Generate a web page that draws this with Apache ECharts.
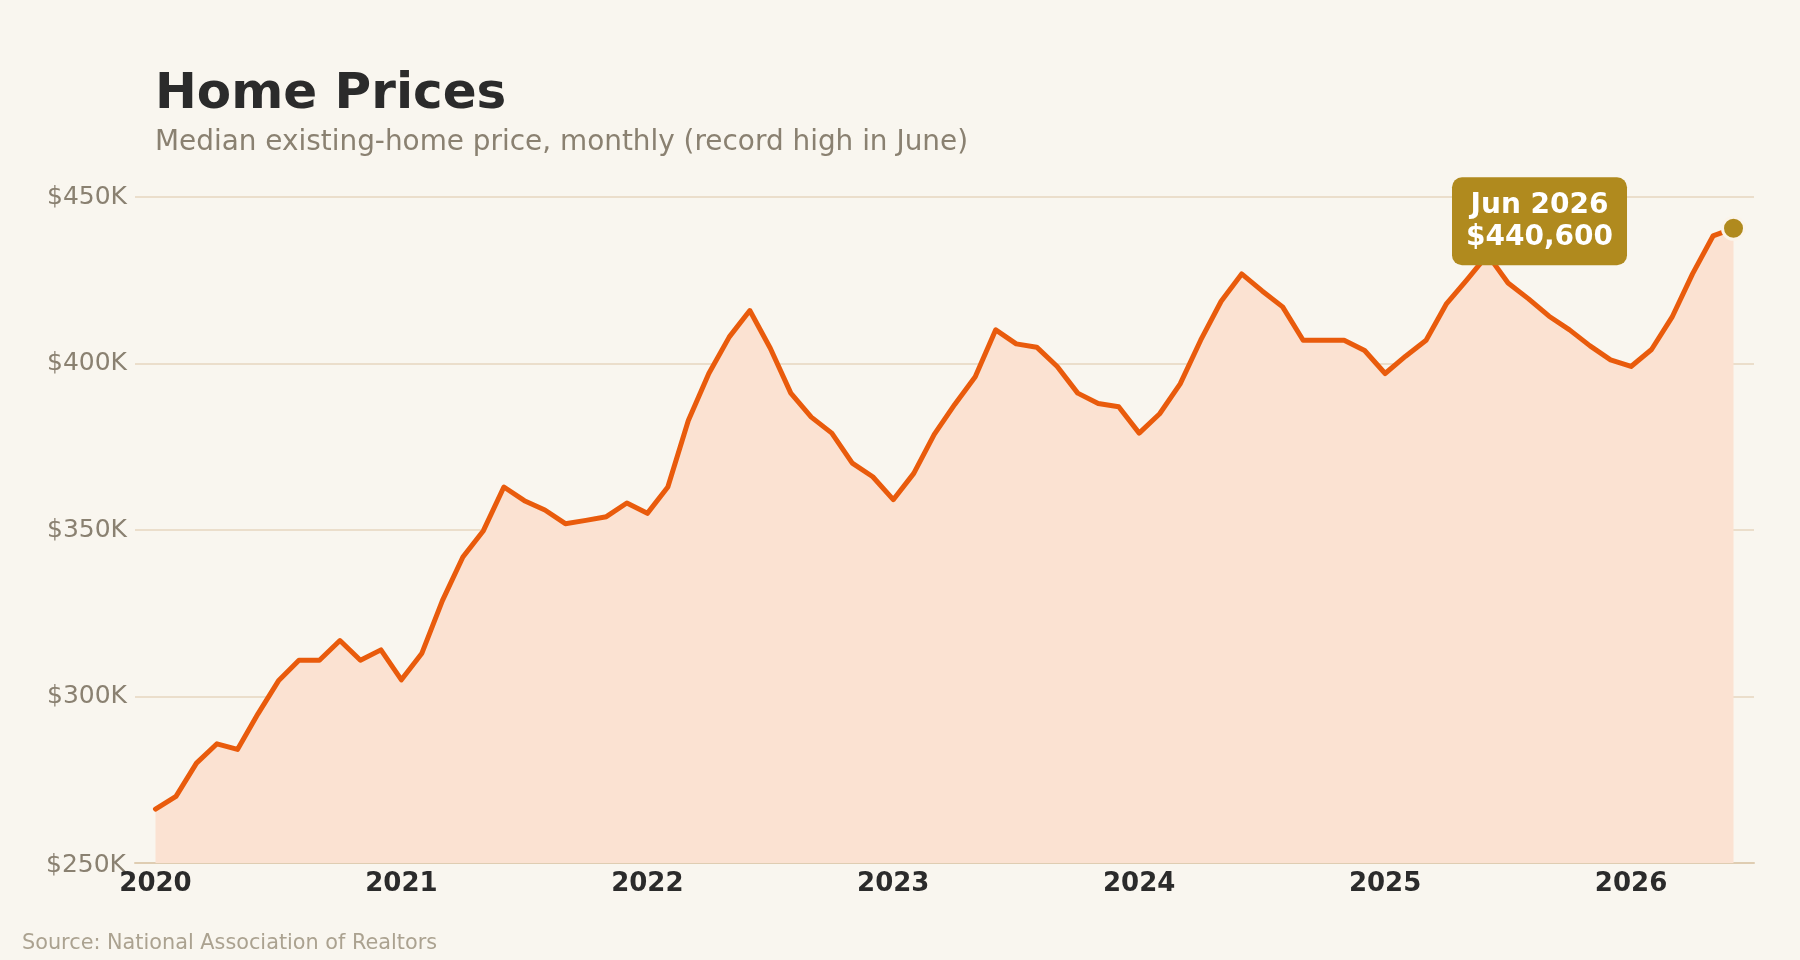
<!DOCTYPE html>
<html>
<head>
<meta charset="utf-8">
<title>Home Prices</title>
<script src="https://cdn.jsdelivr.net/npm/echarts@6/dist/echarts.min.js"></script>
<style>
  html, body { margin: 0; padding: 0; background: #f9f6ef; }
  #main { width: 1800px; height: 960px; }
</style>
</head>
<body>
<div id="main"></div>
<script>
// monthly median price, $K, Jan 2020 .. Jun 2026
var startYear = 2020;
var yearLabels = ['2020', '2021', '2022', '2023', '2024', '2025', '2026'];
var prices = [
  266.2, 270.0, 280.0, 285.8, 284.1, 294.8, 304.7, 310.9, 310.9, 316.8, 310.9, 314.0,
  305.0, 313.0, 328.8, 341.9, 349.8, 362.9, 358.8, 356.0, 351.9, 352.9, 354.0, 358.1,
  355.0, 362.9, 382.9, 397.0, 408.0, 415.9, 404.6, 391.1, 383.9, 379.1, 370.1, 366.0,
  359.1, 367.0, 378.7, 387.7, 396.0, 410.1, 405.9, 404.9, 399.1, 391.1, 388.0, 387.0,
  379.1, 384.9, 393.9, 407.0, 418.7, 426.9, 421.8, 417.0, 407.0, 407.0, 407.0, 403.9,
  397.0, 402.2, 407.0, 418.0, 425.2, 432.7, 424.2, 419.4, 414.2, 410.1, 405.3, 401.1,
  399.1, 404.2, 413.9, 426.9, 438.3, 440.6
];
var lastLabel = 'Jun 2026';
var lastValue = '$440,600';

var seriesData = prices.map(function (v, i) { return [i, v]; });
var yearTicks = yearLabels.map(function (y, i) { return i * 12; });
var last = seriesData[seriesData.length - 1];

var myChart = echarts.init(document.getElementById('main'));

var option = {
  backgroundColor: '#f9f6ef',
  animation: false,
  title: [
    {
      text: 'Home Prices',
      left: 150, top: 65,
      textStyle: { fontFamily: 'DejaVu Sans', fontSize: 50, fontWeight: 'bold', color: '#2b2b2b' }
    },
    {
      text: 'Median existing-home price, monthly (record high in June)',
      left: 150, top: 124,
      textStyle: { fontFamily: 'DejaVu Sans', fontSize: 27.9, fontWeight: 'normal', color: '#8a8171' }
    },
    {
      text: 'Source: National Association of Realtors',
      left: 17, top: 928,
      textStyle: { fontFamily: 'DejaVu Sans', fontSize: 20.8, fontWeight: 'normal', color: '#aba290' }
    }
  ],
  grid: { left: 135, right: 46, top: 197, bottom: 97 },
  xAxis: {
    type: 'value',
    min: -1,
    max: 78,
    axisLine: { show: true, lineStyle: { color: '#dfcdb2', width: 2 } },
    axisTick: { show: false },
    splitLine: { show: false },
    axisLabel: {
      customValues: yearTicks,
      margin: 8,
      fontFamily: 'DejaVu Sans', fontSize: 26, fontWeight: 'bold', color: '#2b2b2b',
      formatter: function (v) { return String(startYear + Math.round(v / 12)); }
    }
  },
  yAxis: {
    type: 'value',
    min: 250,
    max: 450,
    interval: 50,
    axisLine: { show: false },
    axisTick: { show: false },
    splitLine: { show: true, lineStyle: { color: '#ebdecb', width: 2 } },
    axisLabel: {
      margin: 8,
      padding: [9, 0, 0, 0],
      fontFamily: 'DejaVu Sans', fontSize: 25, color: '#8a8171',
      formatter: function (v) { return v === 250 ? '' : '$' + v + 'K'; }
    }
  },
  graphic: [
    {
      type: 'text', left: 46, top: 853,
      style: { text: '$250K', fontFamily: 'DejaVu Sans', fontSize: 25, fill: '#8a8171' }
    }
  ],
  series: [
    {
      type: 'line',
      data: seriesData,
      showSymbol: false,
      lineStyle: { color: '#e95b0c', width: 5, join: 'round', cap: 'round' },
      areaStyle: { color: '#fbe2d2', opacity: 1 },
      z: 3,
      markPoint: {
        symbol: 'circle',
        symbolSize: 22,
        itemStyle: { color: '#b08a1e', borderColor: '#fbf4ea', borderWidth: 3 },
        data: [{ coord: last }],
        label: {
          show: true,
          position: 'inside',
          offset: [-194, -7],
          formatter: lastLabel + '\n' + lastValue,
          backgroundColor: '#b08a1e',
          borderRadius: 10,
          padding: [12, 14, 12, 14],
          color: '#ffffff',
          fontFamily: 'DejaVu Sans',
          fontSize: 28,
          fontWeight: 'bold',
          lineHeight: 32,
          align: 'center'
        }
      }
    }
  ]
};

myChart.setOption(option);
</script>
</body>
</html>
